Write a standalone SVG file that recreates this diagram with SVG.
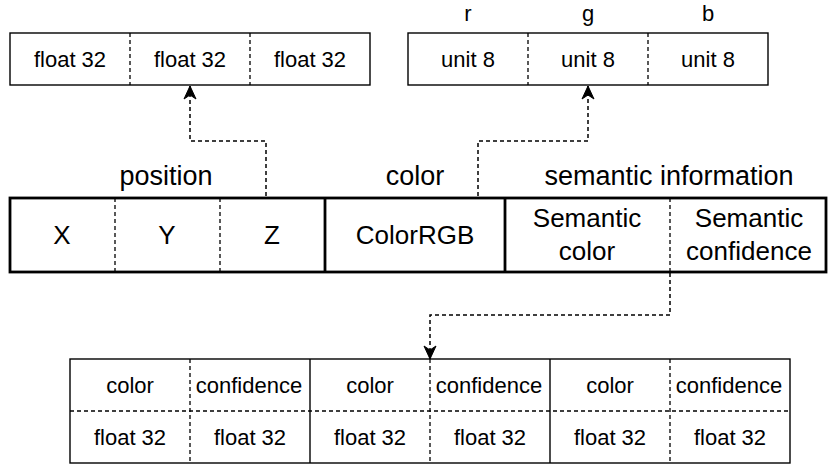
<svg xmlns="http://www.w3.org/2000/svg" width="828" height="464" viewBox="0 0 828 464">
<style>
  text { font-family: "Liberation Sans", Arial, sans-serif; fill: #000; text-anchor: middle; }
  .s22 { font-size: 22px; }
  .s26 { font-size: 26px; }
  .s27 { font-size: 27px; }
  .box { fill: #fff; stroke: #000; stroke-width: 1.4; }
  .thick { fill: none; stroke: #000; stroke-width: 2.8; }
  .dash { fill: none; stroke: #000; stroke-width: 1.3; stroke-dasharray: 4 3; }
  .solid { fill: none; stroke: #000; stroke-width: 1.4; }
  .conn { fill: none; stroke: #000; stroke-width: 1.5; stroke-dasharray: 4 3; }
  .head { fill: #000; stroke: #000; stroke-width: 1; }
</style>
<defs>
  <marker id="arrow" markerUnits="userSpaceOnUse" markerWidth="16" markerHeight="14" refX="13" refY="6.5" orient="auto" overflow="visible">
    <path class="head" d="M0,0.5 L13,6.5 L0,12.5 L4,6.5 Z"/>
  </marker>
</defs>
<rect width="828" height="464" fill="#fff"/>

<g id="position-floats">
  <rect class="box" x="10" y="33" width="360" height="52"/>
  <line class="dash" x1="130" y1="33" x2="130" y2="85"/>
  <line class="dash" x1="250" y1="33" x2="250" y2="85"/>
  <text class="s22" x="70" y="67">float 32</text>
  <text class="s22" x="190" y="67">float 32</text>
  <text class="s22" x="310" y="67">float 32</text>
</g>

<g id="color-units">
  <text class="s22" x="468" y="21">r</text>
  <text class="s22" x="588" y="21">g</text>
  <text class="s22" x="708" y="21">b</text>
  <rect class="box" x="408" y="33" width="360" height="52"/>
  <line class="dash" x1="528" y1="33" x2="528" y2="85"/>
  <line class="dash" x1="648" y1="33" x2="648" y2="85"/>
  <text class="s22" x="468" y="67">unit 8</text>
  <text class="s22" x="588" y="67">unit 8</text>
  <text class="s22" x="708" y="67">unit 8</text>
</g>

<g id="labels">
  <text class="s27" x="166" y="185">position</text>
  <text class="s27" x="415" y="185">color</text>
  <text class="s27" x="669" y="185">semantic information</text>
</g>

<g id="main-row">
  <rect x="10" y="198" width="816" height="74" fill="#fff" stroke="#000" stroke-width="2.8"/>
  <line class="dash" x1="115" y1="198" x2="115" y2="272"/>
  <line class="dash" x1="220" y1="198" x2="220" y2="272"/>
  <line class="thick" x1="325" y1="198" x2="325" y2="272"/>
  <line class="thick" x1="505" y1="198" x2="505" y2="272"/>
  <line class="dash" x1="670" y1="198" x2="670" y2="272"/>
  <text class="s26" x="62" y="244">X</text>
  <text class="s26" x="167" y="244">Y</text>
  <text class="s26" x="272" y="244">Z</text>
  <text class="s26" x="415" y="244">ColorRGB</text>
  <text class="s26" x="587" y="227">Semantic</text>
  <text class="s26" x="587" y="260">color</text>
  <text class="s26" x="749" y="227">Semantic</text>
  <text class="s26" x="749" y="260">confidence</text>
</g>

<g id="semantic-table">
  <rect class="box" x="70" y="359" width="720" height="104"/>
  <line class="dash" x1="70" y1="411" x2="790" y2="411"/>
  <line class="dash" x1="190" y1="359" x2="190" y2="463"/>
  <line class="solid" x1="310" y1="359" x2="310" y2="463"/>
  <line class="dash" x1="430" y1="359" x2="430" y2="463"/>
  <line class="solid" x1="550" y1="359" x2="550" y2="463"/>
  <line class="dash" x1="670" y1="359" x2="670" y2="463"/>
  <text class="s22" x="130" y="393">color</text>
  <text class="s22" x="249" y="393">confidence</text>
  <text class="s22" x="370" y="393">color</text>
  <text class="s22" x="489" y="393">confidence</text>
  <text class="s22" x="610" y="393">color</text>
  <text class="s22" x="729" y="393">confidence</text>
  <text class="s22" x="130" y="445">float 32</text>
  <text class="s22" x="250" y="445">float 32</text>
  <text class="s22" x="370" y="445">float 32</text>
  <text class="s22" x="490" y="445">float 32</text>
  <text class="s22" x="610" y="445">float 32</text>
  <text class="s22" x="730" y="445">float 32</text>
</g>

<g id="connectors">
  <path class="conn" d="M266,196 L266,141 L190,141 L190,86" marker-end="url(#arrow)"/>
  <path class="conn" d="M478,196 L478,141 L588,141 L588,86" marker-end="url(#arrow)"/>
  <path class="conn" d="M670,273 L670,315 L430,315 L430,359" marker-end="url(#arrow)"/>
</g>
</svg>
